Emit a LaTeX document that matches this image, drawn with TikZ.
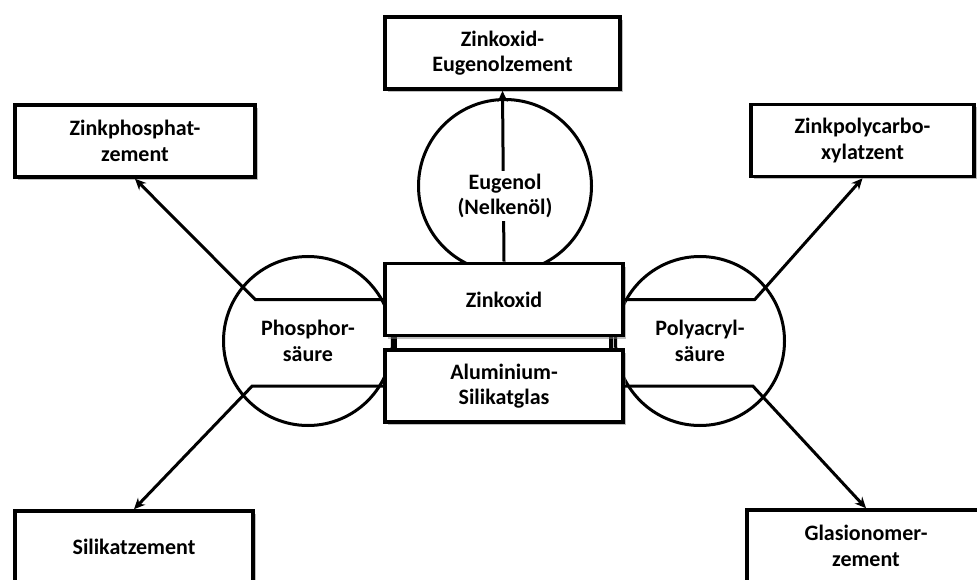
\documentclass[tikz,border=0pt]{standalone}
\usepackage{fontspec}
\setmainfont{Carlito}
\usepackage{tikz}
\usetikzlibrary{arrows.meta,shadows}

\tikzset{
  zbox/.style={draw, line width=3.6pt, fill=white, minimum width=238pt, minimum height=72pt,
    align=center, inner sep=2pt,
    drop shadow={shadow xshift=3pt, shadow yshift=-3pt, opacity=0.5}},
  acid/.style={draw, circle, line width=3pt, fill=white, minimum size=169pt, inner sep=0pt, align=center},
  acidtext/.style={fill=white, align=center, inner sep=3pt},
  reaction/.style={line width=3pt, -{Stealth[length=11pt,width=10pt]}},
  zfont/.style={font=\bfseries\fontsize{22}{25.5}\selectfont}
}

\begin{document}
\begin{tikzpicture}[x=1pt, y=-1pt, every node/.append style={zfont}]

    \useasboundingbox (0,0) rectangle (977,580);
    \clip (0,0) rectangle (977,580);

    % Liquids
    \node[acid] (pho) at (308,341) {Phosphor-\\säure};
    \node[acid] (pol) at (700,341) {Polyacryl-\\säure};
    \node[acid, minimum size=173pt] (eug) at (505,186) {};

    % Block behind the powders
    \node[zbox, minimum width=216pt, minimum height=40pt] (mix) at (503,343) {};

    % Powders
    \node[zbox] (zno) at (504,299.5) {Zinkoxid};
    \node[zbox] (alu) at (504,386) {Aluminium-\\Silikatglas};

    % Cements
    \node[zbox, minimum width=235pt] (zoe) at (502.5,53) {Zinkoxid-\\Eugenolzement};
    \node[zbox, minimum width=240pt] (zph) at (135,141) {Zinkphosphat-\\zement};
    \node[zbox, minimum width=223pt] (zpc) at (862.5,140.5) {Zinkpolycarbo-\\xylatzent};
    \node[zbox] (sil) at (134,547) {Silikatzement};
    \node[zbox] (gic) at (866,546) {Glasionomer-\\zement};

    % Reactions
    \draw[reaction] (zno.north) -- (zoe.south);
    \node[acidtext] (eugt) at (505,196) {Eugenol\\(Nelkenöl)};

    \draw[reaction] (zno.west) -- ++(-128,0) -- (zph.south);
    \draw[reaction] (alu.west) -- ++(-131,0) -- (sil.north);
    \draw[reaction] (zno.east) -- ++(130,0) -- (zpc.south);
    \draw[reaction] (alu.east) -- ++(128,0) -- (gic.north);

\end{tikzpicture}
\end{document}
